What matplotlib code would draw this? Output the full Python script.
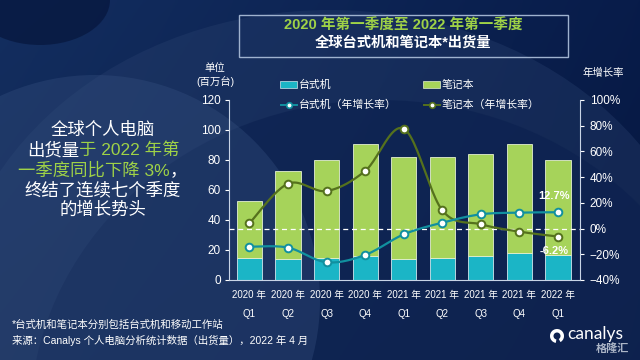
import numpy as np
import matplotlib
matplotlib.use("Agg")
import matplotlib.pyplot as plt
from matplotlib.patches import Rectangle, Ellipse, Circle, Wedge
from matplotlib.lines import Line2D
from matplotlib.offsetbox import TextArea, HPacker, AnnotationBbox

FAM = ['Liberation Sans', 'Noto Sans CJK SC', 'DejaVu Sans']
plt.rcParams['font.family'] = FAM

# ---------------- data ----------------
quarters = ["2020 年\nQ1", "2020 年\nQ2", "2020 年\nQ3", "2020 年\nQ4",
            "2021 年\nQ1", "2021 年\nQ2", "2021 年\nQ3", "2021 年\nQ4",
            "2022 年\nQ1"]
desktop = [15.0, 14.0, 14.5, 16.0, 14.0, 15.0, 16.2, 17.8, 16.7]
total = [53.0, 72.8, 80.0, 90.7, 82.0, 82.0, 84.0, 91.0, 79.8]
notebook = [t - d for t, d in zip(total, desktop)]
desktop_growth = [-14.1, -14.8, -26.2, -20.5, -4.5, 4.6, 11.1, 12.4, 12.7]
notebook_growth = [4.1, 34.9, 29.2, 44.8, 77.7, 14.2, 3.3, -2.4, -6.2]
left_ticks = [0, 20, 40, 60, 80, 100, 120]
right_ticks = [-40, -20, 0, 20, 40, 60, 80, 100]

C_DESK = "#1bb5c6"
C_NOTE = "#a6d35a"
C_DESK_LINE = "#11909f"
C_NOTE_LINE = "#55711d"
GREEN_TXT = "#9fd247"

W, H = 640, 360
fig = plt.figure(figsize=(6.4, 3.6), dpi=100)

# ---------------- background ----------------
bg = fig.add_axes([0, 0, 1, 1], zorder=-5)
bg.set_xlim(0, W)
bg.set_ylim(H, 0)
bg.axis("off")
grad = np.linspace(0, 1, 256)
gx, gy = np.meshgrid(grad, np.linspace(0, 1, 144))
c_left = np.array([0x13, 0x2e, 0x60]) / 255
c_right = np.array([0x08, 0x1c, 0x4a]) / 255
img = c_left[None, None, :] * (1 - gx[..., None]) + c_right[None, None, :] * gx[..., None]
img = img * (1 - 0.15 * gy[..., None])
bg.imshow(img, extent=[0, W, H, 0], aspect="auto", zorder=0)
bg.add_patch(Ellipse((330, 330), 760, 640, facecolor="#2a4270", alpha=0.35,
                     edgecolor="none", zorder=1))
bg.add_patch(Ellipse((380, 420), 700, 640, facecolor="#0a1f4e", alpha=0.55,
                     edgecolor="none", zorder=1))
bg.add_patch(Circle((95, 300), 225, facecolor="#3a5585", alpha=0.32,
                    edgecolor="none", zorder=1))
bg.add_patch(Ellipse((40, 0), 140, 90, facecolor="#06163c", alpha=0.7,
                     edgecolor="none", zorder=1))

# ---------------- main axes ----------------
ax = fig.add_axes([229 / W, 1 - 280 / H, (580 - 229) / W, 180 / H])
ax.patch.set_alpha(0)
x = np.arange(len(quarters))
bw = 0.65
ax.bar(x, desktop, bw, color=C_DESK, edgecolor="#cfe6ee", linewidth=0.6, zorder=2)
ax.bar(x, notebook, bw, bottom=desktop, color=C_NOTE, edgecolor="#e4f0d0",
       linewidth=0.6, zorder=2)
ax.set_xlim(-0.53, len(quarters) - 1 + 0.57)
ax.set_ylim(0, 120)
ax.set_yticks(left_ticks)
ax.set_xticks(x)
ax.set_xticklabels(quarters, fontsize=7, color="white", linespacing=2.1)
ax.tick_params(axis="x", length=0, pad=7)
ax.tick_params(axis="y", colors="white", labelsize=8.5, length=3, width=0.8, pad=3)
for s in ["top", "right"]:
    ax.spines[s].set_visible(False)
ax.spines["left"].set_color("#c8d4e6")
ax.spines["bottom"].set_color("#c8d4e6")
ax.spines["left"].set_linewidth(0.8)
ax.spines["bottom"].set_linewidth(0.8)

ax2 = ax.twinx()
ax2.patch.set_alpha(0)
ax2.set_ylim(-40, 100)
ax2.set_yticks(right_ticks)
ax2.set_yticklabels([f"{v}%".replace("-", "−") for v in right_ticks])
ax2.tick_params(axis="y", colors="white", labelsize=8.5, length=3, width=0.8, pad=4)
for s in ["top", "left", "bottom"]:
    ax2.spines[s].set_visible(False)
ax2.spines["right"].set_color("#c8d4e6")
ax2.spines["right"].set_linewidth(0.8)
ax2.axhline(0, color="white", lw=0.9, ls=(0, (4, 3)), zorder=3)


def catmull(xs, ys, n=24):
    xs = np.asarray(xs, float)
    ys = np.asarray(ys, float)
    P = np.column_stack([xs, ys])
    out = []
    for i in range(len(P) - 1):
        p0 = P[i - 1] if i > 0 else P[i]
        p1, p2 = P[i], P[i + 1]
        p3 = P[i + 2] if i + 2 < len(P) else P[i + 1]
        t = np.linspace(0, 1, n)[:, None]
        seg = 0.5 * ((2 * p1) + (-p0 + p2) * t + (2 * p0 - 5 * p1 + 4 * p2 - p3) * t ** 2
                     + (-p0 + 3 * p1 - 3 * p2 + p3) * t ** 3)
        out.append(seg if i == 0 else seg[1:])
    s = np.vstack(out)
    return s[:, 0], s[:, 1]


sx, sy = catmull(x, notebook_growth)
ax2.plot(sx, sy, color=C_NOTE_LINE, lw=1.6, zorder=4)
ax2.plot(x, notebook_growth, ls="none", marker="o", ms=5.5, mfc="white",
         mec=C_NOTE_LINE, mew=1.4, zorder=5)
sx, sy = catmull(x, desktop_growth)
ax2.plot(sx, sy, color=C_DESK_LINE, lw=1.6, zorder=4)
ax2.plot(x, desktop_growth, ls="none", marker="o", ms=5.5, mfc="white",
         mec=C_DESK_LINE, mew=1.4, zorder=5)

ax2.annotate(f"{desktop_growth[-1]}%", (x[-1], desktop_growth[-1]),
             xytext=(-3, 8), textcoords="offset points", ha="center", va="bottom",
             color="white", fontsize=8, fontweight="bold", zorder=6)
ax2.annotate(f"{notebook_growth[-1]}%", (x[-1], notebook_growth[-1]),
             xytext=(-3, -7), textcoords="offset points", ha="center", va="top",
             color="white", fontsize=8, fontweight="bold", zorder=6)

# ---------------- overlay texts ----------------
ov = fig.add_axes([0, 0, 1, 1], zorder=10)
ov.set_xlim(0, W)
ov.set_ylim(H, 0)
ov.axis("off")
ov.patch.set_alpha(0)

ov.add_patch(Rectangle((239, 15), 329, 42, fill=False, edgecolor="#9fb2cf", lw=1))
ov.text(403, 26, "2020 年第一季度至 2022 年第一季度", ha="center", va="center",
        color=GREEN_TXT, fontsize=10.5, fontweight="bold")
ov.text(403, 43, "全球台式机和笔记本*出货量", ha="center", va="center",
        color="white", fontsize=10.3, fontweight="bold")

ov.text(215, 68, "单位", ha="center", va="center", color="white", fontsize=7.5)
ov.text(215, 81, "(百万台)", ha="center", va="center", color="white", fontsize=7.5)
ov.text(603, 73, "年增长率", ha="center", va="center", color="white", fontsize=7.5)

ov.add_patch(Rectangle((280, 81), 17, 7, facecolor=C_DESK, edgecolor="#cfe6ee", lw=0.5))
ov.text(299, 84.5, "台式机", ha="left", va="center", color="white", fontsize=7.8)
ov.add_patch(Rectangle((423, 81), 17, 7, facecolor=C_NOTE, edgecolor="#e4f0d0", lw=0.5))
ov.text(442, 84.5, "笔记本", ha="left", va="center", color="white", fontsize=7.8)
ov.add_line(Line2D([281, 297], [105, 105], color=C_DESK_LINE, lw=1.4))
ov.add_line(Line2D([289], [105], marker="o", ms=4, mfc="white", mec=C_DESK_LINE, mew=1.2))
ov.text(299, 105, "台式机（年增长率）", ha="left", va="center", color="white", fontsize=7.8)
ov.add_line(Line2D([424, 440], [105, 105], color=C_NOTE_LINE, lw=1.4))
ov.add_line(Line2D([432], [105], marker="o", ms=4, mfc="white", mec=C_NOTE_LINE, mew=1.2))
ov.text(442, 105, "笔记本（年增长率）", ha="left", va="center", color="white", fontsize=7.8)

FS = 12.5


def colored_line(parts, xc, yc):
    boxes = [TextArea(t, textprops=dict(color=c, fontsize=FS, family=FAM))
             for t, c in parts]
    pack = HPacker(children=boxes, align="baseline", pad=0, sep=0)
    ab = AnnotationBbox(pack, (xc, yc), xycoords="data", frameon=False,
                        box_alignment=(0.5, 0.5), pad=0)
    ov.add_artist(ab)


colored_line([("全球个人电脑", "white")], 103, 130)
colored_line([("出货量", "white"), ("于 2022 年第", GREEN_TXT)], 103, 150)
colored_line([("一季度同比下降 3%", GREEN_TXT), ("，", "white")], 103, 170)
colored_line([("终结了连续七个季度", "white")], 103, 190)
colored_line([("的增长势头", "white")], 103, 210)

ov.text(12, 325, "*台式机和笔记本分别包括台式机和移动工作站", ha="left", va="center",
        color="white", fontsize=7.5)
ov.text(12, 340, "来源：Canalys 个人电脑分析统计数据（出货量），2022 年 4 月", ha="left",
        va="center", color="white", fontsize=7.5)

ov.add_patch(Wedge((557, 336), 7, 100, 420, width=3.5, facecolor="white", edgecolor="none"))
ov.text(567, 334, "canalys", ha="left", va="center", color="white", fontsize=12.5,
        family=['Lato', 'DejaVu Sans'])
ov.text(596, 349, "格隆汇", ha="left", va="center", color="#c8d0dc", fontsize=8,
        fontweight="bold", alpha=0.85)

fig.savefig("out.png", dpi=100)
